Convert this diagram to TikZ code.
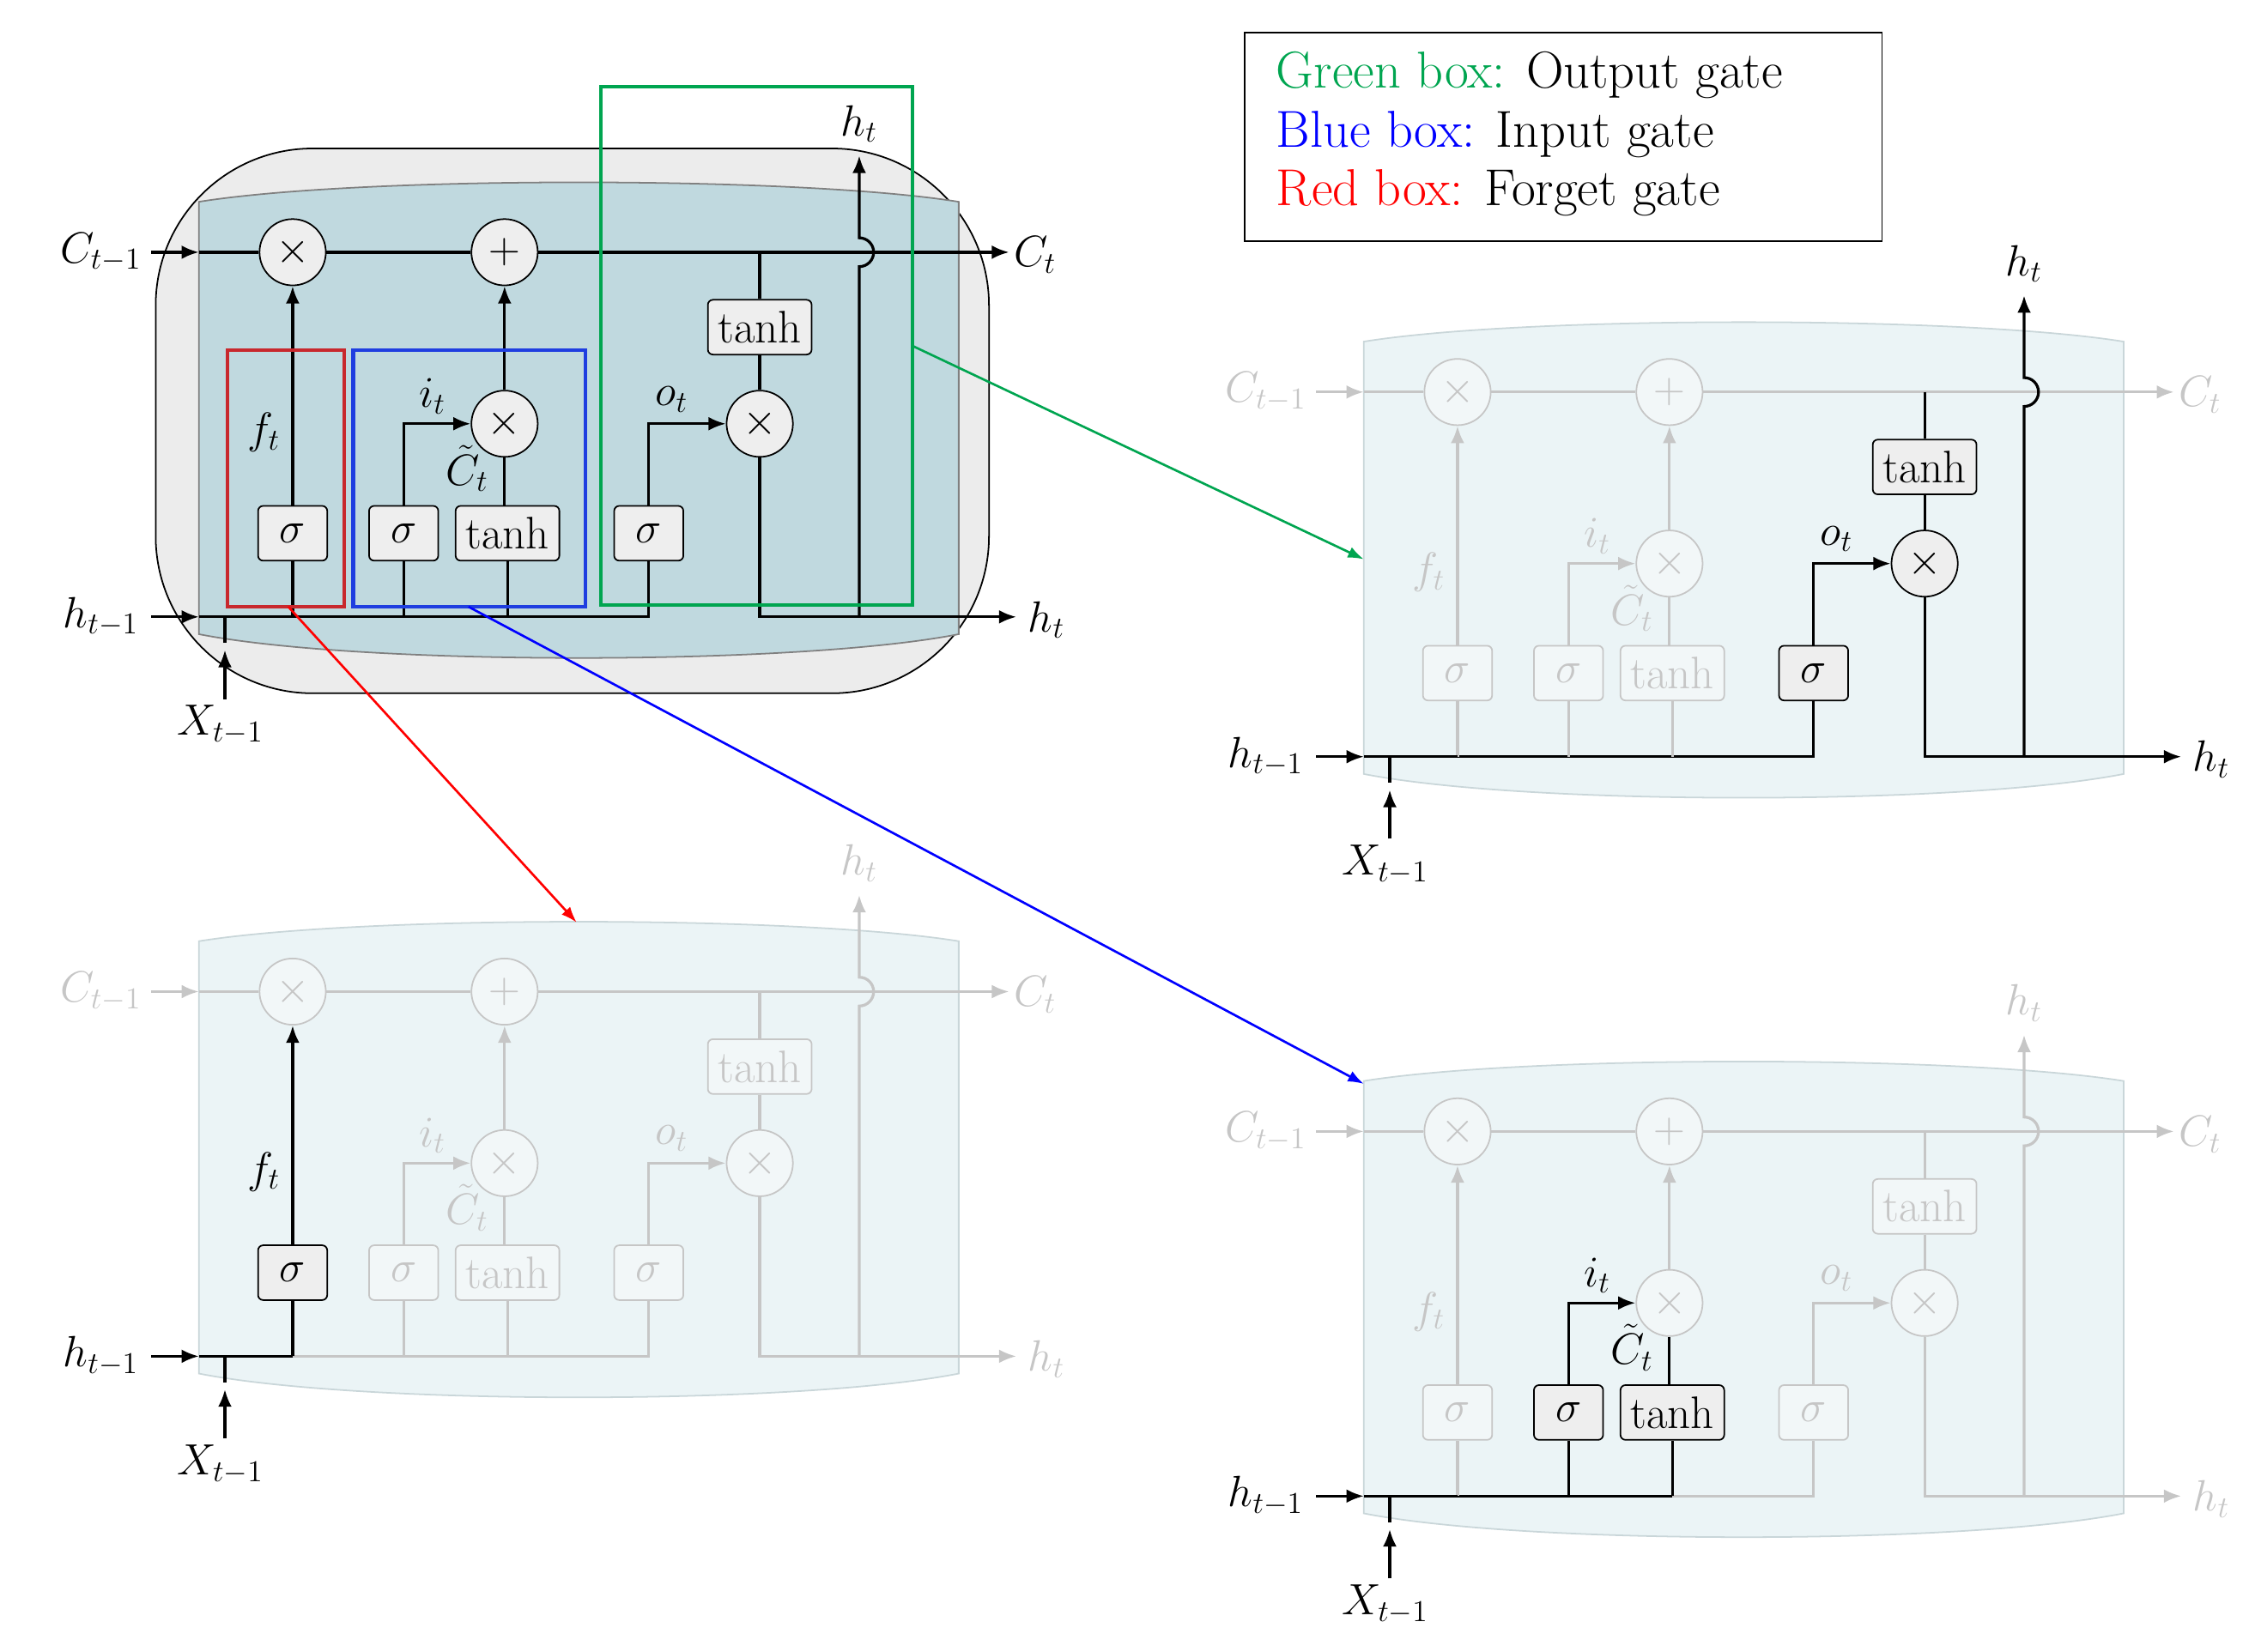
\documentclass[tikz,border=0pt]{standalone}
\usetikzlibrary{arrows.meta}
\definecolor{cyltop}{HTML}{C0D9DF}
\definecolor{cylsub}{HTML}{EBF4F6}
\definecolor{cylsubd}{HTML}{C9D6D9}
\definecolor{fadec}{HTML}{C6C6C6}
\definecolor{opfill}{HTML}{EEEEEE}
\definecolor{opfade}{HTML}{F2F7F8}
\definecolor{outerg}{HTML}{ECECEC}
\definecolor{gbox}{HTML}{00A550}
\definecolor{bbox}{HTML}{1F3EE0}
\definecolor{rbox}{HTML}{C8282D}
\tikzset{
 dk/.style={color=black}, fd/.style={color=fadec},
 dkb/.style={color=black,fill=opfill}, fdb/.style={color=fadec,fill=opfade},
 arr/.style={-{Latex[length=2.4mm,width=1.9mm]}},
 opc/.style={circle,draw,minimum size=0.92cm,inner sep=0pt,line width=0.6pt},
 sbox/.style={rectangle,rounded corners=2pt,draw,minimum width=0.96cm,minimum height=0.76cm,inner sep=0pt,line width=0.6pt},
 tbox/.style={sbox,minimum width=1.44cm},
 lbl/.style={inner sep=0pt},
 every node/.style={font=\fontsize{18}{20}\selectfont},
}
\newcommand\setcat[2]{\tikzset{#1/.style={#2},#1b/.style={#2b}}}
\newcommand\lstm[4]{%
\begin{scope}[shift={(#2,#3)}]
\ifcase#4
 \setcat{N}{dk}\setcat{F}{dk}\setcat{I}{dk}\setcat{O}{dk}\setcat{IO}{dk}\def\cylf{cyltop}\def\cyld{black!50}
 \draw[fill=outerg,line width=0.6pt,rounded corners=62pt] (108,103) rectangle (686,481);
\or
 \setcat{N}{fd}\setcat{F}{fd}\setcat{I}{fd}\setcat{O}{dk}\setcat{IO}{dk}\def\cylf{cylsub}\def\cyld{cylsubd}
\or
 \setcat{N}{fd}\setcat{F}{dk}\setcat{I}{fd}\setcat{O}{fd}\setcat{IO}{fd}\def\cylf{cylsub}\def\cyld{cylsubd}
\or
 \setcat{N}{fd}\setcat{F}{fd}\setcat{I}{dk}\setcat{O}{fd}\setcat{IO}{dk}\def\cylf{cylsub}\def\cyld{cylsubd}
\fi
\path[fill=\cylf,draw=\cyld,line width=0.6pt] (138,140) .. controls (250,122) and (553,122) .. (665,140) -- (665,440) .. controls (553,462) and (250,462) .. (138,440) -- cycle;
\begin{scope}[line width=1.1pt]
\coordinate (#1-cst) at (105,175); \coordinate (#1-cin) at (138,175);
\coordinate (#1-ctap) at (527,175); \coordinate (#1-cend) at (700,175);
\coordinate (#1-hst) at (105,428); \coordinate (#1-hin) at (138,428);
\coordinate (#1-hf) at (203,428); \coordinate (#1-hi) at (280,428);
\coordinate (#1-ht) at (352,428); \coordinate (#1-ho) at (450,428);
\coordinate (#1-hx) at (527,428); \coordinate (#1-hu) at (596,428);
\coordinate (#1-hend) at (705,428); \coordinate (#1-hj) at (596,185);
\coordinate (#1-htop) at (596,108);
\coordinate (#1-xa) at (156,485); \coordinate (#1-xb) at (156,451);
\coordinate (#1-xc) at (156,446);
\draw[N,arr] (#1-cst) -- (#1-cin);
\node[opc,Nb] (#1-fx) at (203,175) {$\times$};
\node[opc,Nb] (#1-pl) at (350,175) {$+$};
\node[opc,Nb] (#1-ix) at (350,294) {$\times$};
\node[opc,Ob] (#1-ox) at (527,294) {$\times$};
\node[sbox,Fb] (#1-sf) at (203,370) {$\sigma$};
\node[sbox,Ib] (#1-si) at (280,370) {$\sigma$};
\node[tbox,Ib] (#1-ti) at (352,370) {tanh};
\node[sbox,Ob] (#1-so) at (450,370) {$\sigma$};
\node[tbox,Ob] (#1-to) at (527,227) {tanh};
\draw[N] (#1-cin) -- (#1-fx.west);
\draw[N] (#1-fx.east) -- (#1-pl.west);
\draw[N,arr] (#1-pl.east) -- (#1-cend);
\draw[O] (#1-ctap) -- (#1-to.north);
\draw[dk,arr] (#1-hst) -- (#1-hin);
\draw[dk] (#1-hin) -- (#1-hf);
\draw[IO] (#1-hf) -- (#1-hi) -- (#1-ht);
\draw[O] (#1-ht) -- (#1-ho) -- (#1-so.south);
\draw[F] (#1-hf) -- (#1-sf.south);
\draw[I] (#1-hi) -- (#1-si.south);
\draw[I] (#1-ht) -- (#1-ti.south);
\draw[dk] (#1-hf) -- (#1-hin);
\draw[dk] (#1-xc) -- (156,428);
\draw[dk,arr] (#1-xa) -- (#1-xb);
\draw[F,arr] (#1-sf.north) -- (#1-fx.south);
\draw[I,arr] (#1-si.north) |- (#1-ix.west);
\draw[I] (#1-ti.north -| #1-ix) -- (#1-ix.south);
\draw[N,arr] (#1-ix.north) -- (#1-pl.south);
\draw[O,arr] (#1-so.north) |- (#1-ox.west);
\draw[O] (#1-to.south) -- (#1-ox.north);
\draw[O,arr] (#1-ox.south) -- (#1-hx) -- (#1-hend);
\draw[O,arr] (#1-hu) -- (#1-hj) arc[start angle=-90,end angle=90,radius=0.2cm] -- (#1-htop);
\end{scope}
\node[lbl,N] at (70,175) {$C_{t-1}$};
\node[lbl,N] at (718,177) {$C_t$};
\node[lbl,dk] at (70,428) {$h_{t-1}$};
\node[lbl,O] at (726,430) {$h_t$};
\node[lbl,O] at (596,86) {$h_t$};
\node[lbl,dk] at (153,503) {$X_{t-1}$};
\node[lbl,F] at (183,300) {$f_t$};
\node[lbl,I] at (300,275) {$i_t$};
\node[lbl,I] at (324,325) {$\tilde{C}_t$};
\node[lbl,O] at (466,277) {$o_t$};
\end{scope}}
\begin{document}
\begin{tikzpicture}[x=0.02cm,y=-0.02cm]
\useasboundingbox (0,0) rectangle (1560,1146);
\lstm{a}{0}{0}{0}
\lstm{b}{808}{97}{1}
\lstm{c}{0}{513}{2}
\lstm{d}{808}{610}{3}
\draw[rbox,line width=1.4pt] (158,243) rectangle (239,421);
\draw[bbox,line width=1.4pt] (245,243) rectangle (406,421);
\draw[gbox,line width=1.4pt] (417,60) rectangle (633,420);
\coordinate (gs) at (633,240); \coordinate (ge) at (946,388);
\coordinate (rs) at (200,421); \coordinate (re) at (400,640);
\coordinate (bs) at (325,421); \coordinate (be) at (946,752);
\draw[gbox,line width=0.9pt,-{Latex[length=2.2mm,width=1.6mm]}] (gs) -- (ge);
\draw[red,line width=0.9pt,-{Latex[length=2.2mm,width=1.6mm]}] (rs) -- (re);
\draw[blue,line width=0.9pt,-{Latex[length=2.2mm,width=1.6mm]}] (bs) -- (be);
\node[draw,line width=0.6pt,minimum width=8.84cm,minimum height=2.9cm,anchor=north west,inner sep=0pt] (leg) at (863,22) {};
\begin{scope}[every node/.style={font=\fontsize{20.5}{22}\selectfont}]
\node[anchor=west,inner sep=0pt] (l1) at (885,52) {\textcolor{gbox}{Green box:} Output gate};
\node[anchor=west,inner sep=0pt] (l2) at (885,93) {\textcolor{blue}{Blue box:} Input gate};
\node[anchor=west,inner sep=0pt] (l3) at (885,134) {\textcolor{red}{Red box:} Forget gate};
\end{scope}
\end{tikzpicture}
\end{document}
